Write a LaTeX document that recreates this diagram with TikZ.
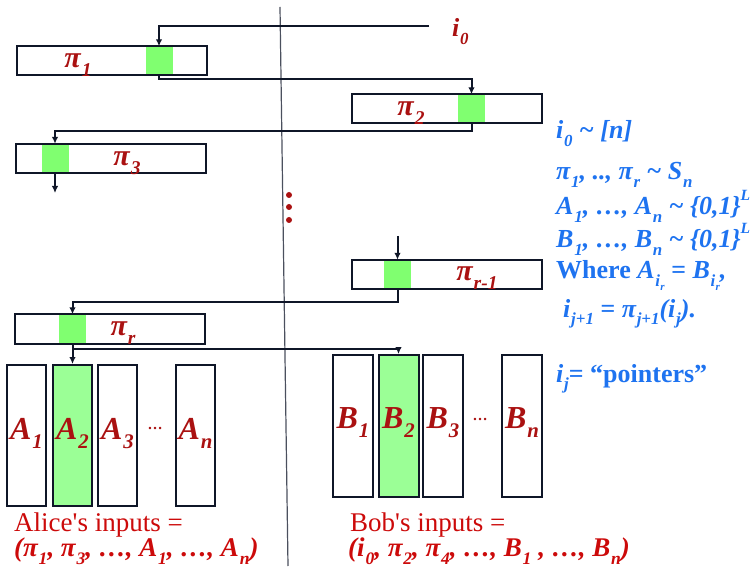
\documentclass[tikz,border=0pt]{standalone}
\usepackage{fontspec}
\setmainfont{Liberation Serif}
\usetikzlibrary{arrows.meta}

\definecolor{edge}{RGB}{15,22,40}
\definecolor{labred}{RGB}{170,17,17}
\definecolor{inred}{RGB}{204,10,10}
\definecolor{noteblue}{RGB}{30,115,240}
\definecolor{sqgreen}{RGB}{128,255,112}
\definecolor{colgreen}{RGB}{155,255,150}

% lowered / raised small text
\newcommand\lo[1]{\kern0.03em\raisebox{-0.3em}{\scalebox{0.65}{#1}}}
\newcommand\hi[1]{\raisebox{0.55em}{\scalebox{0.6}{#1}}}

\begin{document}
\begin{tikzpicture}[x=1pt,y=-1pt,
  pbox/.style={draw=edge,line width=2pt,minimum width=190pt,minimum height=29pt,inner sep=0pt},
  gsq/.style={fill=sqgreen,minimum width=27pt,minimum height=29pt,inner sep=0pt},
  col/.style={draw=edge,line width=2pt,minimum width=39pt,minimum height=141pt,inner sep=0pt},
  lab/.style={anchor=base,text=labred,inner sep=0pt,font=\fontsize{30}{30}\selectfont\bfseries\itshape},
  ptr/.style={draw=edge,line width=2pt,-{Latex[length=7pt,width=6.5pt]}},
  note/.style={anchor=base west,text=noteblue,inner sep=0pt,font=\fontsize{26}{26}\selectfont\bfseries\itshape},
  inp/.style={anchor=base west,text=inred,inner sep=0pt,font=\fontsize{27}{27}\selectfont}]
  \useasboundingbox (0,0) rectangle (755,569);

  % split between the two players
  \draw[edge!75,line width=1.2pt] (280,7) -- (288,566);

  % permutation rows: green cell first, frame on top
  \node[gsq] (g1) at (159,61) {};
  \node[gsq] (g2) at (471.5,109) {};
  \node[gsq] (g3) at (55,158.5) {};
  \node[gsq] (g4) at (397.5,274.5) {};
  \node[gsq] (g5) at (72.5,329) {};
  \node[pbox] (p1) at (112,61) {};
  \node[pbox] (p2) at (447,109) {};
  \node[pbox] (p3) at (110.5,158.5) {};
  \node[pbox] (p4) at (447,274.5) {};
  \node[pbox] (p5) at (110,329) {};
  \node[lab] (l1) at (78,68) {π\lo{1}};
  \node[lab] (l2) at (411,116) {π\lo{2}};
  \node[lab] (l3) at (127,166) {π\lo{3}};
  \node[lab] (l4) at (477,281) {π\lo{r-1}};
  \node[lab] (l5) at (123,336) {π\lo{r}};

  % start pointer
  \node[lab,anchor=base west,font=\fontsize{26}{26}\selectfont\bfseries\itshape] (i0) at (452,37) {i\lo{0}};
  \coordinate (i0end) at (429,26);
  \coordinate (k1) at (0,79);
  \coordinate (k2) at (0,131);
  \coordinate (k4) at (0,302);
  \coordinate (k5) at (0,349);
  \coordinate (d3) at (55,193);
  \coordinate (u4) at (397.5,236);

  % vertical dots
  \foreach \y in {195,207,220}
    \fill[labred] (289,\y) circle (3);

  % Alice's and Bob's strings
  \foreach \x/\nm/\t/\c in {26.5/a1/1/white, 72.5/a2/2/colgreen, 117.5/a3/3/white, 195.5/an/n/white} {
    \node[col,fill=\c] (\nm) at (\x,435.5) {};
    \node[lab,font=\fontsize{32}{32}\selectfont\bfseries\itshape] (t\nm) at (\x,439) {A\lo{\t}};
  }
  \foreach \x/\nm/\t/\c in {353/b1/1/white, 398.5/b2/2/colgreen, 443/b3/3/white, 522/bn/n/white} {
    \node[col,fill=\c,minimum width=40pt,minimum height=142pt] (\nm) at (\x,426) {};
    \node[lab,font=\fontsize{32}{32}\selectfont\bfseries\itshape] (t\nm) at (\x,428) {B\lo{\t}};
  }
  \node[lab,font=\fontsize{15}{15}\selectfont\bfseries] (adots) at (155,429) {…};
  \node[lab,font=\fontsize{15}{15}\selectfont\bfseries] (bdots) at (480,420) {…};

  % pointer chain
  \draw[ptr] (i0end) -| (g1.north);
  \draw[ptr] (g1.south) -- (g1.south |- k1) -| (g2.north);
  \draw[ptr] (g2.south) -- (g2.south |- k2) -| (g3.north);
  \draw[ptr] (g3.south) -- (d3);
  \draw[ptr] (u4) -- (g4.north);
  \draw[ptr] (g4.south) -- (g4.south |- k4) -| (g5.north);
  \draw[ptr] (g5.south) -- (a2.north);
  \draw[ptr] (g5.south |- k5) -| (b2.north);

  % what is random
  \node[note] (n1) at (556,139) {i\lo{0} \textasciitilde{} [n]};
  \node[note] (n2) at (556,180) {π\lo{1}, .., π\lo{r} \textasciitilde{} S\lo{n}};
  \node[note] (n3) at (556,215) {A\lo{1}, …, A\lo{n} \textasciitilde{} \{0,1\}\hi{L}};
  \node[note] (n4) at (556,248) {B\lo{1}, …, B\lo{n} \textasciitilde{} \{0,1\}\hi{L}};
  \node[note] (n5) at (556,279) {{\upshape Where} A\lo{i\kern0.02em\raisebox{-0.2em}{\scalebox{0.65}{r}}} = B\lo{i\kern0.02em\raisebox{-0.2em}{\scalebox{0.65}{r}}},};
  \node[note] (n6) at (563,317) {i\lo{j+1} = π\lo{j+1}(i\lo{j}).};
  \node[note] (n7) at (556,382) {i\lo{j}{\upshape = “pointers”}};

  % inputs
  \node[inp] (alice) at (14,531) {Alice\textquotesingle s inputs =};
  \node[inp,font=\fontsize{27}{27}\selectfont\bfseries\itshape] (alicev) at (14,556)
    {(π\lo{1}, π\lo{3}, …, A\lo{1}, …, A\lo{n})};
  \node[inp] (bob) at (350,531) {Bob\textquotesingle s inputs =};
  \node[inp,font=\fontsize{27}{27}\selectfont\bfseries\itshape] (bobv) at (348,556)
    {(i\lo{0}, π\lo{2}, π\lo{4}, …, B\lo{1} , …, B\lo{n})};
\end{tikzpicture}
\end{document}
